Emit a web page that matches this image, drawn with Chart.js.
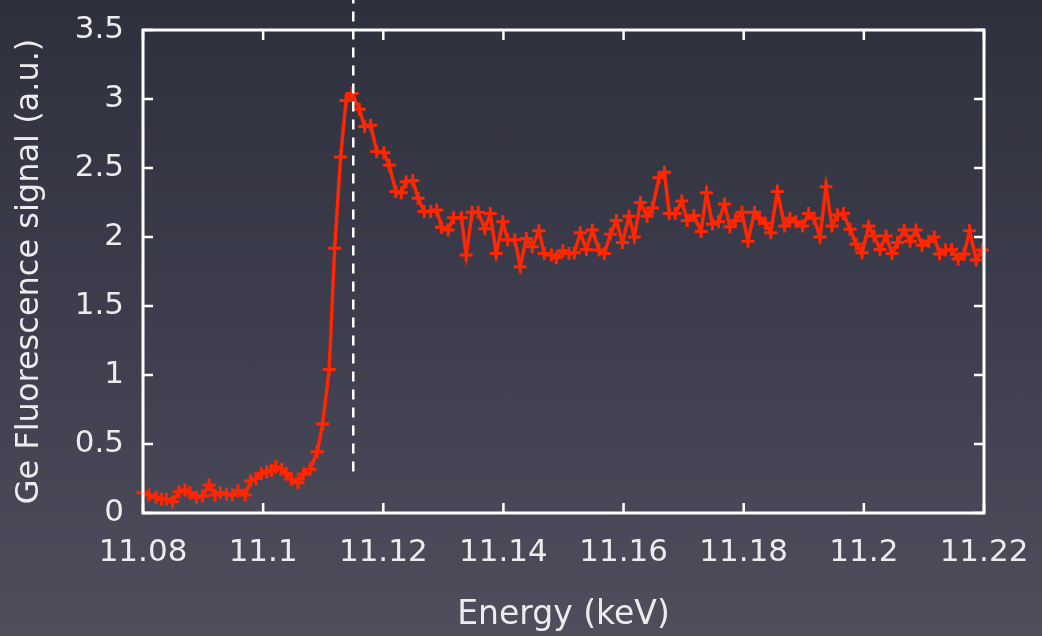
<!DOCTYPE html>
<html>
<head>
<meta charset="utf-8">
<script src="https://cdn.jsdelivr.net/npm/chart.js@4/dist/chart.umd.min.js"></script>
<style>
  html, body { margin: 0; padding: 0; }
  body {
    width: 1042px; height: 636px; overflow: hidden;
    background: linear-gradient(to bottom, #2f303d 0%, #3d3d4d 50%, #4f4e5d 100%);
  }
  canvas { display: block; }
</style>
</head>
<body>
<canvas id="chart" width="1042" height="636"></canvas>
<script>
// Energy (keV) of each scan point
const energy = [
  11.0800, 11.0810, 11.0822, 11.0831, 11.0839, 11.0849, 11.0860, 11.0870, 11.0878, 11.0889,
  11.0899, 11.0910, 11.0920, 11.0929, 11.0939, 11.0949, 11.0958, 11.0970, 11.0979, 11.0988,
  11.0997, 11.1006, 11.1014, 11.1021, 11.1031, 11.1038, 11.1047, 11.1058, 11.1067, 11.1078,
  11.1090, 11.1099, 11.1110, 11.1119, 11.1129, 11.1138, 11.1148, 11.1160, 11.1169, 11.1179,
  11.1189, 11.1201, 11.1210, 11.1221, 11.1230, 11.1238, 11.1249, 11.1258, 11.1268, 11.1279,
  11.1289, 11.1297, 11.1308, 11.1317, 11.1330, 11.1338, 11.1348, 11.1358, 11.1369, 11.1378,
  11.1388, 11.1399, 11.1407, 11.1419, 11.1428, 11.1438, 11.1448, 11.1459, 11.1468, 11.1480,
  11.1488, 11.1499, 11.1509, 11.1518, 11.1528, 11.1538, 11.1548, 11.1559, 11.1568, 11.1578,
  11.1588, 11.1598, 11.1609, 11.1618, 11.1628, 11.1639, 11.1648, 11.1659, 11.1668, 11.1676,
  11.1686, 11.1697, 11.1706, 11.1717, 11.1729, 11.1738, 11.1748, 11.1758, 11.1768, 11.1777,
  11.1786, 11.1797, 11.1807, 11.1818, 11.1826, 11.1836, 11.1845, 11.1856, 11.1868, 11.1877,
  11.1887, 11.1898, 11.1908, 11.1917, 11.1927, 11.1937, 11.1947, 11.1956, 11.1966, 11.1977,
  11.1987, 11.1997, 11.2008, 11.2017, 11.2027, 11.2037, 11.2047, 11.2056, 11.2067, 11.2077,
  11.2087, 11.2097, 11.2108, 11.2117, 11.2126, 11.2136, 11.2146, 11.2157, 11.2167, 11.2176,
  11.2187, 11.2197
];

// Ge fluorescence signal (a.u.)
const signal = [
  0.147, 0.130, 0.114, 0.099, 0.099, 0.082, 0.154, 0.167, 0.147, 0.114,
  0.123, 0.203, 0.130, 0.147, 0.138, 0.130, 0.162, 0.130, 0.234, 0.250,
  0.287, 0.300, 0.310, 0.335, 0.317, 0.287, 0.244, 0.220, 0.283, 0.317,
  0.444, 0.645, 1.040, 1.918, 2.580, 2.990, 3.040, 2.925, 2.800, 2.810,
  2.620, 2.610, 2.520, 2.330, 2.320, 2.400, 2.410, 2.280, 2.185, 2.185,
  2.195, 2.070, 2.050, 2.140, 2.140, 1.870, 2.180, 2.180, 2.060, 2.170,
  1.880, 2.110, 1.980, 1.980, 1.785, 1.990, 1.930, 2.046, 1.880, 1.870,
  1.850, 1.900, 1.880, 1.886, 2.030, 1.910, 2.050, 1.906, 1.880, 2.020,
  2.120, 1.960, 2.150, 2.000, 2.250, 2.150, 2.210, 2.430, 2.470, 2.170,
  2.170, 2.260, 2.120, 2.155, 2.040, 2.320, 2.094, 2.110, 2.240, 2.075,
  2.120, 2.180, 1.970, 2.180, 2.135, 2.100, 2.030, 2.330, 2.080, 2.135,
  2.110, 2.080, 2.170, 2.135, 2.000, 2.365, 2.080, 2.160, 2.170, 2.056,
  1.950, 1.886, 2.080, 2.007, 1.910, 2.007, 1.880, 1.960, 2.050, 1.970,
  2.050, 1.940, 1.970, 2.000, 1.877, 1.906, 1.910, 1.840, 1.877, 2.046,
  1.833, 1.906
];

// edge marker (dashed line) position and lower end
const edgeEnergy = [11.115];
const edgeFrom = [0.3];

// axis ranges
const xRange = [11.08, 11.22];
const yRange = [0, 3.5];

const points = energy.map((e, i) => ({ x: e, y: signal[i] }));

const txt = "#ececec";
const fontFam = "'DejaVu Sans', Verdana, sans-serif";

// white frame with inward ticks on all four sides + dashed edge line
const framePlugin = {
  id: "frame",
  afterDatasetsDraw(chart) {
    const { ctx, chartArea: a, scales } = chart;
    const xs = scales.x, ys = scales.y;
    ctx.save();
    ctx.strokeStyle = "#ffffff";
    ctx.lineWidth = 3;
    ctx.strokeRect(a.left, a.top, a.right - a.left, a.bottom - a.top);
    ctx.lineWidth = 2.5;
    const len = 10;
    ctx.beginPath();
    xs.ticks.forEach(t => {
      const px = xs.getPixelForValue(t.value);
      ctx.moveTo(px, a.bottom); ctx.lineTo(px, a.bottom - len);
      ctx.moveTo(px, a.top); ctx.lineTo(px, a.top + len);
    });
    ys.ticks.forEach(t => {
      const py = ys.getPixelForValue(t.value);
      ctx.moveTo(a.left, py); ctx.lineTo(a.left + len, py);
      ctx.moveTo(a.right, py); ctx.lineTo(a.right - len, py);
    });
    ctx.stroke();

    // dashed vertical line at the edge
    const ex = xs.getPixelForValue(edgeEnergy[0]);
    ctx.setLineDash([10, 8]);
    ctx.lineWidth = 2.5;
    ctx.beginPath();
    ctx.moveTo(ex, ys.getPixelForValue(edgeFrom[0]));
    ctx.lineTo(ex, 0);
    ctx.stroke();
    ctx.restore();
  }
};

const ctx = document.getElementById("chart").getContext("2d");
const chart = new Chart(ctx, {
  type: "line",
  data: {
    datasets: [
      {
        label: "Ge",
        data: points,
        borderColor: "#ff2600",
        backgroundColor: "#ff2600",
        borderWidth: 3.5,
        pointStyle: "cross",
        pointRadius: 6.5,
        pointBorderWidth: 3,
        pointHoverRadius: 6.5,
        tension: 0,
        fill: false,
        clip: false,
      },
    ],
  },
  options: {
    responsive: false,
    animation: false,
    devicePixelRatio: 1,
    layout: { padding: { top: 30, right: 58, left: 0, bottom: 0 } },
    plugins: {
      legend: { display: false },
      tooltip: { enabled: false },
    },
    scales: {
      x: {
        type: "linear",
        min: xRange[0],
        max: xRange[1],
        afterFit(scale) {
          scale.height = 123;
          scale.paddingLeft = 0;
          scale.paddingRight = 0;
        },
        grid: { display: false, drawTicks: false },
        border: { display: false },
        ticks: {
          stepSize: 0.02,
          padding: 21,
          color: txt,
          font: { family: fontFam, size: 31 },
          maxRotation: 0,
          autoSkip: false,
          callback: v => String(Number(v.toFixed(2))),
        },
        title: {
          display: true,
          text: "Energy (keV)",
          color: txt,
          font: { family: fontFam, size: 33 },
          padding: { top: 0, bottom: 1 },
        },
      },
      y: {
        min: yRange[0],
        max: yRange[1],
        afterFit(scale) {
          scale.width = 143;
          scale.paddingTop = 0;
          scale.paddingBottom = 0;
        },
        grid: { display: false, drawTicks: false },
        border: { display: false },
        ticks: {
          stepSize: 0.5,
          padding: 19,
          color: txt,
          font: { family: fontFam, size: 31 },
          callback: v => String(Number(v.toFixed(1))),
        },
        title: {
          display: true,
          text: "Ge Fluorescence signal (a.u.)",
          color: txt,
          font: { family: fontFam, size: 32 },
          padding: { top: 10, bottom: 0 },
        },
      },
    },
  },
  plugins: [framePlugin],
});
</script>
</body>
</html>
